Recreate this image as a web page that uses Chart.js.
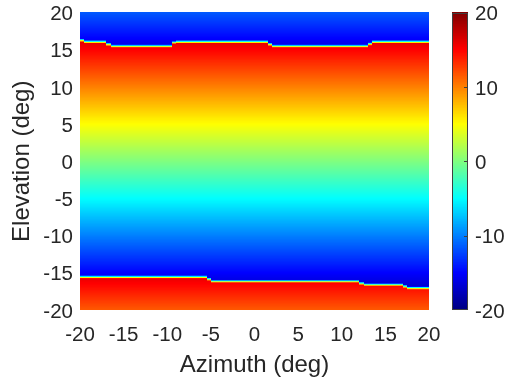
<!DOCTYPE html>
<html>
<head>
<meta charset="utf-8">
<script src="https://cdn.jsdelivr.net/npm/chart.js@4.4.1/dist/chart.umd.min.js"></script>
<style>
  html, body { margin: 0; padding: 0; background: #fff; }
  canvas { display: block; }
</style>
</head>
<body>
<canvas id="myChart" width="512" height="381"></canvas>
<script>
// azimuth column centres (deg), 0.5 deg wide
const azimuth = [
  -19.75, -19.25, -18.75, -18.25, -17.75, -17.25, -16.75, -16.25, -15.75, -15.25,
  -14.75, -14.25, -13.75, -13.25, -12.75, -12.25, -11.75, -11.25, -10.75, -10.25,
  -9.75, -9.25, -8.75, -8.25, -7.75, -7.25, -6.75, -6.25, -5.75, -5.25,
  -4.75, -4.25, -3.75, -3.25, -2.75, -2.25, -1.75, -1.25, -0.75, -0.25,
  0.25, 0.75, 1.25, 1.75, 2.25, 2.75, 3.25, 3.75, 4.25, 4.75,
  5.25, 5.75, 6.25, 6.75, 7.25, 7.75, 8.25, 8.75, 9.25, 9.75,
  10.25, 10.75, 11.25, 11.75, 12.25, 12.75, 13.25, 13.75, 14.25, 14.75,
  15.25, 15.75, 16.25, 16.75, 17.25, 17.75, 18.25, 18.75, 19.25, 19.75
];
// elevation where the phase wraps at the top
const topWrap = [
  16.05, 15.83, 15.83, 15.83, 15.83, 15.83, 15.5, 15.25, 15.25, 15.25,
  15.25, 15.25, 15.25, 15.25, 15.25, 15.25, 15.25, 15.25, 15.25, 15.25,
  15.25, 15.75, 15.83, 15.83, 15.83, 15.83, 15.83, 15.83, 15.83, 15.83,
  15.83, 15.83, 15.83, 15.83, 15.83, 15.83, 15.83, 15.83, 15.83, 15.83,
  15.83, 15.83, 15.83, 15.5, 15.25, 15.25, 15.25, 15.25, 15.25, 15.25,
  15.25, 15.25, 15.25, 15.25, 15.25, 15.25, 15.25, 15.25, 15.25, 15.25,
  15.25, 15.25, 15.25, 15.25, 15.25, 15.25, 15.55, 15.83, 15.83, 15.83,
  15.83, 15.83, 15.83, 15.83, 15.83, 15.83, 15.83, 15.83, 15.83, 15.83
];
// elevation where the phase wraps at the bottom
const bottomWrap = [
  -15.34, -15.34, -15.34, -15.34, -15.34, -15.34, -15.34, -15.34, -15.34, -15.34,
  -15.34, -15.34, -15.34, -15.34, -15.34, -15.34, -15.34, -15.34, -15.34, -15.34,
  -15.34, -15.34, -15.34, -15.34, -15.34, -15.34, -15.34, -15.34, -15.34, -15.63,
  -15.92, -15.92, -15.92, -15.92, -15.92, -15.92, -15.92, -15.92, -15.92, -15.92,
  -15.92, -15.92, -15.92, -15.92, -15.92, -15.92, -15.92, -15.92, -15.92, -15.92,
  -15.92, -15.92, -15.92, -15.92, -15.92, -15.92, -15.92, -15.92, -15.92, -15.92,
  -15.92, -15.92, -15.92, -15.92, -16.2, -16.37, -16.37, -16.37, -16.37, -16.37,
  -16.37, -16.37, -16.37, -16.37, -16.6, -16.8, -16.8, -16.8, -16.8, -16.8
];
const wrapPeriod = 31.5;   // jump of the value across a wrap line
const edgeWidth = 0.45;    // blurred width of the wrap line (deg)
const xTicks = [-20, -15, -10, -5, 0, 5, 10, 15, 20];
const yTicks = [-20, -15, -10, -5, 0, 5, 10, 15, 20];
const cbTicks = [-20, -10, 0, 10, 20];
const cLim = [-20, 20];

const textColor = '#262626';

// matlab jet
function jet(v) {
    var t = (v - cLim[0]) / (cLim[1] - cLim[0]);
    t = Math.max(0, Math.min(1, t));
    function c(x) { return Math.round(255 * Math.max(0, Math.min(1, x))); }
    var r = c(1.5 - Math.abs(4 * t - 3));
    var g = c(1.5 - Math.abs(4 * t - 2));
    var b = c(1.5 - Math.abs(4 * t - 1));
    return 'rgb(' + r + ',' + g + ',' + b + ')';
}

function cellValue(el, top, bot) {
    if (el >= top + edgeWidth) return el - wrapPeriod;
    if (el > top) {
        var f = (el - top) / edgeWidth;
        return top + f * (edgeWidth - wrapPeriod);
    }
    if (el <= bot - edgeWidth) return el + wrapPeriod;
    if (el < bot) {
        var g = (bot - el) / edgeWidth;
        return bot + g * (wrapPeriod - edgeWidth);
    }
    return el;
}

const heatmapPlugin = {
    id: 'heatmap',
    beforeDatasetsDraw(chart) {
        const ctx = chart.ctx;
        const xs = chart.scales.x, ys = chart.scales.y, cb = chart.scales.cb;
        const half = (azimuth[1] - azimuth[0]) / 2;
        const step = 0.05;
        ctx.save();
        for (var i = 0; i < azimuth.length; i++) {
            var x0 = Math.round(xs.getPixelForValue(azimuth[i] - half));
            var x1 = Math.round(xs.getPixelForValue(azimuth[i] + half));
            for (var el = ys.min; el < ys.max - 1e-9; el += step) {
                var y0 = Math.round(ys.getPixelForValue(el + step));
                var y1 = Math.round(ys.getPixelForValue(el));
                if (y1 <= y0) continue;
                ctx.fillStyle = jet(cellValue(el + step / 2, topWrap[i], bottomWrap[i]));
                ctx.fillRect(x0, y0, x1 - x0, y1 - y0);
            }
        }

        // colour bar
        const area = chart.chartArea;
        const bx = Math.round(area.right + 23), bw = 16;
        for (var v = cb.min; v < cb.max - 1e-9; v += 0.1) {
            var ya = Math.round(cb.getPixelForValue(v + 0.1));
            var yb = Math.round(cb.getPixelForValue(v));
            if (yb <= ya) continue;
            ctx.fillStyle = jet(v + 0.05);
            ctx.fillRect(bx, ya, bw, yb - ya);
        }
        var top = Math.round(cb.getPixelForValue(cb.max));
        var bottom = Math.round(cb.getPixelForValue(cb.min));
        ctx.strokeStyle = '#404040';
        ctx.lineWidth = 1;
        ctx.strokeRect(bx + 0.5, top + 0.5, bw - 1, bottom - top - 1);
        ctx.beginPath();
        cbTicks.forEach(function (t) {
            if (t === cb.min || t === cb.max) return;
            var y = Math.round(cb.getPixelForValue(t)) + 0.5;
            ctx.moveTo(bx + bw - 4, y);
            ctx.lineTo(bx + bw, y);
        });
        ctx.stroke();
        ctx.restore();
    }
};

var tickFont = { family: 'Liberation Sans, Arial, sans-serif', size: 20.5 };
var titleFont = { family: 'Liberation Sans, Arial, sans-serif', size: 24 };

// invisible tick marks used only to push the labels away from the axis
function hiddenGrid(len) {
    return { display: true, drawOnChartArea: false, drawTicks: true, tickLength: len, color: 'rgba(0,0,0,0)' };
}

var ctx = document.getElementById('myChart').getContext('2d');
var myChart = new Chart(ctx, {
    type: 'scatter',
    data: { datasets: [{ data: [] }] },
    options: {
        responsive: false,
        animation: false,
        devicePixelRatio: 1,
        layout: { padding: { top: 12.5, left: 0, right: 0, bottom: 0 } },
        plugins: { legend: { display: false }, tooltip: { enabled: false } },
        scales: {
            x: {
                type: 'linear', min: -20, max: 20,
                grid: hiddenGrid(0), border: { display: false },
                afterBuildTicks: function (s) { s.ticks = xTicks.map(function (v) { return { value: v }; }); },
                afterFit: function (s) { s.height = 71; },
                ticks: { autoSkip: false, maxRotation: 0, padding: 13, color: textColor, font: tickFont },
                title: { display: true, text: 'Azimuth (deg)', color: textColor, font: titleFont, padding: { top: 0, bottom: 1 } }
            },
            y: {
                type: 'linear', min: -20, max: 20, position: 'left',
                grid: hiddenGrid(7), border: { display: false },
                afterBuildTicks: function (s) { s.ticks = yTicks.map(function (v) { return { value: v }; }); },
                afterFit: function (s) { s.width = 80; },
                ticks: { autoSkip: false, padding: 0, labelOffset: 2, color: textColor, font: tickFont },
                title: { display: true, text: 'Elevation (deg)', color: textColor, font: titleFont, padding: { top: 8, bottom: 0 } }
            },
            cb: {
                type: 'linear', min: cLim[0], max: cLim[1], position: 'right',
                grid: hiddenGrid(46), border: { display: false },
                afterBuildTicks: function (s) { s.ticks = cbTicks.map(function (v) { return { value: v }; }); },
                afterFit: function (s) { s.width = 83; },
                ticks: { autoSkip: false, padding: 0, labelOffset: 2, color: textColor, font: tickFont }
            }
        }
    },
    plugins: [heatmapPlugin]
});
</script>
</body>
</html>
